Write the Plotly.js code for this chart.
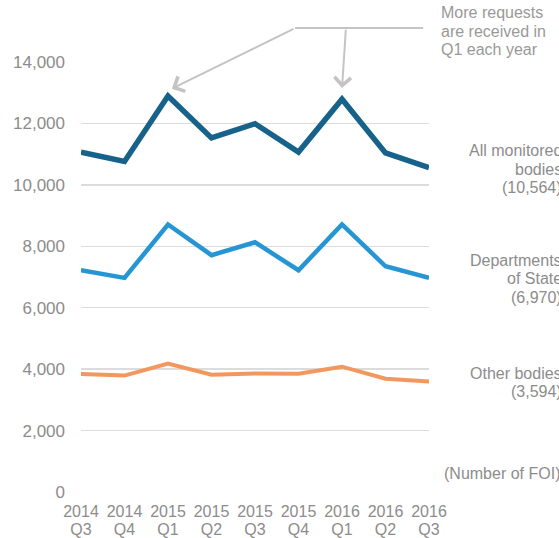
<!DOCTYPE html>
<html>
<head>
<meta charset="utf-8">
<script src="https://cdn.plot.ly/plotly-3.0.1.min.js"></script>
<style>html,body{margin:0;padding:0;background:#fff;overflow:hidden}#chart{width:559px;height:538px}</style>
</head>
<body>
<div id="chart"></div>
<script>
var years = ["2014","2014","2015","2015","2015","2015","2016","2016","2016"];
var quarterNames = ["Q3","Q4","Q1","Q2","Q3","Q4","Q1","Q2","Q3"];
var allBodies = [11060, 10760, 12890, 11530, 11990, 11070, 12790, 11040, 10564];
var departments = [7220, 6970, 8710, 7710, 8130, 7220, 8710, 7350, 6970];
var otherBodies = [3840, 3790, 4180, 3820, 3860, 3850, 4080, 3690, 3594];
var allLabel = ["All monitored", "bodies", "(10,564)"];
var deptLabel = ["Departments", "of State", "(6,970)"];
var otherLabel = ["Other bodies", "(3,594)"];
var yTicks = [0, 2000, 4000, 6000, 8000, 10000, 12000, 14000];
var noteLines = ["More requests", "are received in", "Q1 each year"];
var unitText = "(Number of FOI)";

var idx = years.map(function(_, i){ return i; });
var grey = "#8c8c8c";
var font = "Liberation Sans, Arial, sans-serif";

var traces = [
  {x: idx, y: allBodies, mode: "lines", line: {color: "#17628b", width: 5.5}, hoverinfo: "skip"},
  {x: idx, y: departments, mode: "lines", line: {color: "#2596d3", width: 4.5}, hoverinfo: "skip"},
  {x: idx, y: otherBodies, mode: "lines", line: {color: "#f2975e", width: 4}, hoverinfo: "skip"},
  {x: idx, y: otherBodies, xaxis: "x2", mode: "lines", line: {width: 0}, opacity: 0, hoverinfo: "skip"}
];

var labelFont = {family: font, size: 16, color: grey};
var lineGap = 18.5;
var annotations = [
  {xref: "x", yref: "y", x: 2.09, y: 13130, axref: "x", ayref: "y", ax: 4.92, ay: 15100,
   text: "", showarrow: true, arrowhead: 4, arrowsize: 1.6, arrowwidth: 2, arrowcolor: "#c4c4c4"},
  {xref: "x", yref: "y", x: 6.0, y: 13150, axref: "x", ayref: "y", ax: 6.09, ay: 15100,
   text: "", showarrow: true, arrowhead: 4, arrowsize: 1.6, arrowwidth: 2, arrowcolor: "#c4c4c4"},
  {xref: "paper", yref: "y", x: 1.0, y: 600, xanchor: "right", yanchor: "middle", xshift: 133,
   text: unitText, showarrow: false, align: "right", font: {family: font, size: 16, color: grey}}
];
function addLines(lines, yVal, yref, opts) {
  var n = lines.length;
  lines.forEach(function(t, k) {
    annotations.push(Object.assign({
      yref: yref, y: yVal, yanchor: "middle",
      yshift: ((n - 1) / 2 - k) * lineGap,
      text: t, showarrow: false
    }, opts));
  });
}
var rightOpts = {xref: "paper", x: 1.0, xanchor: "right", xshift: 135, align: "right", font: labelFont};
addLines(allLabel, allBodies[8] - 50, "y", rightOpts);
addLines(deptLabel, departments[8] - 30, "y", rightOpts);
addLines(otherLabel, otherBodies[8] - 30, "y", rightOpts);
addLines(noteLines, 1.0 + (492 - 31.5) / 430 - 1.0, "paper",
  {xref: "paper", x: 1.0, xanchor: "left", xshift: 10, align: "left", font: {family: font, size: 16, color: "#999"}});

var xCommon = {
  range: [0, 8], tickvals: idx,
  showgrid: false, zeroline: false, showline: false, ticks: "",
  tickfont: {family: font, size: 16, color: grey}, fixedrange: true
};
var layout = {
  width: 559, height: 538,
  margin: {l: 81, r: 130, t: 62, b: 46},
  paper_bgcolor: "#fff", plot_bgcolor: "#fff",
  showlegend: false,
  font: {family: font, color: grey},
  xaxis: Object.assign({}, xCommon, {ticktext: years, ticklabelstandoff: 8}),
  xaxis2: Object.assign({}, xCommon, {ticktext: quarterNames, overlaying: "x", side: "bottom", anchor: "y", ticklabelstandoff: 26}),
  yaxis: {
    range: [0, 14000], tickvals: yTicks, tickformat: ",d",
    showgrid: true, gridcolor: "#dcdcdc", gridwidth: 1.5,
    zeroline: false, showline: false, ticks: "",
    tickfont: {family: font, size: 17, color: grey},
    ticklabelstandoff: 15, fixedrange: true
  },
  shapes: [
    {type: "line", xref: "paper", yref: "paper", x0: 0.615, x1: 0.983, y0: 1.079, y1: 1.079,
     line: {color: "#c4c4c4", width: 2}}
  ],
  annotations: annotations
};

Plotly.newPlot("chart", traces, layout, {displayModeBar: false, staticPlot: true});
</script>
</body>
</html>
